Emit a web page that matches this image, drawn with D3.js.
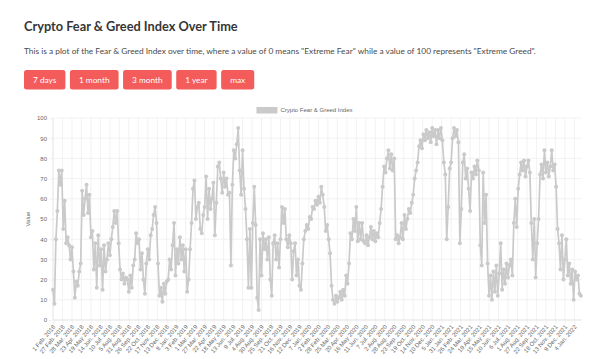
<!DOCTYPE html>
<html><head><meta charset="utf-8">
<script src="https://cdn.jsdelivr.net/npm/d3@7"></script>
<style>
html,body{margin:0;padding:0;background:#fff;}
svg{display:block;}
</style></head><body>
<svg id="c" width="602" height="359"></svg>
<script>
const titleText = "Crypto Fear & Greed Index Over Time";
const subtitleText = 'This is a plot of the Fear & Greed Index over time, where a value of 0 means "Extreme Fear" while a value of 100 represents "Extreme Greed".';
const buttonLabels = ["7 days", "1 month", "3 month", "1 year", "max"];
const seriesName = "Crypto Fear & Greed Index";
const yAxisTitle = "Value";
const yTicks = [0, 10, 20, 30, 40, 50, 60, 70, 80, 90, 100];
const tickLabels = [
  "1 Feb. 2018","27 Feb. 2018","28 Mar. 2018","23 Apr. 2018","19 May 2018","14 Jun. 2018","10 Jul. 2018","5 Aug. 2018","31 Aug. 2018","26 Sep. 2018","22 Oct. 2018","17 Nov. 2018","13 Dec. 2018",
  "8 Jan. 2019","3 Feb. 2019","1 Mar. 2019","27 Mar. 2019","22 Apr. 2019","18 May 2019","13 Jun. 2019","9 Jul. 2019","4 Aug. 2019","30 Aug. 2019","25 Sep. 2019","21 Oct. 2019","16 Nov. 2019","12 Dec. 2019",
  "7 Jan. 2020","2 Feb. 2020","28 Feb. 2020","25 Mar. 2020","20 Apr. 2020","16 May 2020","11 Jun. 2020","7 Jul. 2020","2 Aug. 2020","28 Aug. 2020","23 Sep. 2020","19 Oct. 2020","14 Nov. 2020","10 Dec. 2020",
  "5 Jan. 2021","31 Jan. 2021","26 Feb. 2021","24 Mar. 2021","19 Apr. 2021","15 May 2021","10 Jun. 2021","6 Jul. 2021","1 Aug. 2021","27 Aug. 2021","22 Sep. 2021","18 Oct. 2021","13 Nov. 2021","9 Dec. 2021",
  "4 Jan. 2022"
];
const daysPerTick = 26;     // one labelled tick every 26 daily entries
const daysPerSample = 4;    // one value every 4 days
const totalDays = 1452;
// Index values, sampled every 4 days from 1 Feb 2018
const values = [
  15, 8, 40, 54, 74, 67, 74, 45, 59, 38, 41, 37, 30, 36, 24, 11, 19, 17, 24, 28,
  64, 52, 60, 67, 53, 62, 41, 44, 25, 38, 16, 42, 27, 35, 15, 37, 24, 30, 38, 32, 40, 46, 54, 48, 54, 38,
  25, 20, 23, 18, 21, 20, 14, 22, 16, 27, 30, 43, 38, 40, 25, 33, 20, 13, 28, 35, 30, 42, 45, 52, 56, 48, 28, 12, 16, 9,
  18, 13, 19, 20, 30, 25, 37, 48, 22, 35, 28, 41, 30, 37, 24, 35, 14, 20, 35, 48, 65, 69, 50,
  56, 58, 45, 43, 52, 56, 71, 50, 65, 55, 60, 68, 42, 58, 76, 78, 70, 63, 73, 66, 70, 62, 63, 27, 67, 84, 80, 87,
  95, 74, 62, 84, 65, 55, 40, 16, 45, 16, 48, 66, 47, 11, 5, 40, 22, 43, 35, 40, 30, 41, 20, 12, 38, 42, 30, 38, 26, 40, 56, 48, 55, 40, 36, 42,
  38, 20, 34, 38, 22, 30, 17, 15, 28, 40, 44, 47, 45, 51, 50, 56, 55, 59, 57, 61, 58, 66, 62, 56, 44, 47, 40, 33, 17, 10,
  8, 12, 9, 11, 14, 10, 15, 12, 22, 18, 28, 43, 40, 50, 44, 56, 39, 48, 40, 48, 39, 38, 42, 37, 41, 46, 40, 44, 39, 43, 41, 48, 55,
  66, 76, 73, 80, 84, 75, 82, 74, 80, 40, 42, 38, 41, 48, 40, 52, 45, 50, 55, 53, 58, 62, 70, 74, 78, 86, 89, 85, 92, 89,
  94, 90, 93, 88, 95, 91, 94, 87, 94, 90, 95, 89, 78, 72, 40,
  56, 75, 78, 90, 95, 91, 94, 88, 38, 55, 78, 82, 70, 75, 65, 54, 73, 70, 76, 72, 79, 74, 37, 27, 73, 48, 62, 28, 12, 22,
  10, 24, 14, 27, 12, 23, 38, 15, 25, 18, 28, 21, 27, 30, 22, 48, 60, 46, 65, 72, 78, 74, 79, 71, 76, 79, 73, 48, 30, 50,
  21, 38, 50, 72, 77, 70, 84, 73, 78, 71, 76, 84, 74, 77, 66, 45, 38, 25, 42, 20, 30, 40, 22, 28, 18, 25, 10, 24, 20, 22, 13, 12
];

const svg = d3.select("#c");
const pageFont = "Lato, 'Open Sans', sans-serif";
const chartFont = "'Liberation Sans', Arial, Helvetica, sans-serif";

function fitText(sel, targetWidth) {
  const base = parseFloat(sel.attr("font-size"));
  const w = sel.node().getComputedTextLength();
  sel.attr("font-size", base * targetWidth / w);
}

// Title
const title = svg.append("text").attr("x", 24).attr("y", 31)
  .attr("font-family", pageFont).attr("font-weight", 700).attr("font-size", 14)
  .attr("fill", "#363636").text(titleText);
fitText(title, 214);

// Subtitle
const sub = svg.append("text").attr("x", 24).attr("y", 54)
  .attr("font-family", pageFont).attr("font-size", 8)
  .attr("fill", "#4a4a4a").text(subtitleText);
fitText(sub, 513);

// Buttons
let bx = 24;
buttonLabels.forEach(lbl => {
  const g = svg.append("g");
  const r = g.append("rect").attr("y", 70).attr("height", 19.5).attr("rx", 2.5)
    .attr("fill", "#f45b5b");
  const t = g.append("text").attr("y", 82.8).attr("font-family", pageFont)
    .attr("font-size", 8.3).attr("fill", "#fff").attr("text-anchor", "middle").text(lbl);
  const tw = t.node().getComputedTextLength();
  const w = tw + 18;
  r.attr("x", bx).attr("width", w);
  t.attr("x", bx + w / 2);
  bx += w + 4.5;
});

// Chart
const pLeft = 53, pRight = 582, pTop = 118, pBottom = 320;
const x = d3.scaleLinear().domain([0, totalDays - 1]).range([pLeft, pRight]);
const y = d3.scaleLinear().domain([0, 100]).range([pBottom, pTop]);
const gridColor = "#e9e9e9";
const axisColor = "#d2d2d2";

// horizontal grid
svg.append("g").selectAll("line").data(yTicks).join("line")
  .attr("x1", pLeft).attr("x2", pRight)
  .attr("y1", d => y(d)).attr("y2", d => y(d))
  .attr("stroke", d => d === 0 ? axisColor : gridColor).attr("stroke-width", 0.6);

const tickIdx = tickLabels.map((_, k) => k * daysPerTick);
// vertical grid
svg.append("g").selectAll("line").data(tickIdx).join("line")
  .attr("x1", d => x(d)).attr("x2", d => x(d))
  .attr("y1", pTop).attr("y2", pBottom)
  .attr("stroke", (d, i) => i === 0 ? axisColor : gridColor).attr("stroke-width", 0.6);

// y axis
const yAxis = svg.append("g").attr("transform", `translate(${pLeft},0)`)
  .call(d3.axisLeft(y).tickValues(yTicks).tickSize(4).tickPadding(2));
yAxis.select(".domain").remove();
yAxis.selectAll(".tick line").attr("stroke", gridColor).attr("stroke-width", 0.6);
yAxis.selectAll(".tick text").attr("font-family", chartFont).attr("font-size", 6).attr("fill", "#666");

// x axis
const xAxis = svg.append("g").attr("transform", `translate(0,${pBottom})`)
  .call(d3.axisBottom(x).tickValues(tickIdx).tickSize(4)
    .tickFormat((d, i) => tickLabels[i]));
xAxis.select(".domain").remove();
xAxis.selectAll(".tick line").attr("stroke", gridColor).attr("stroke-width", 0.6);
xAxis.selectAll(".tick text")
  .attr("font-family", chartFont).attr("font-size", 6).attr("fill", "#666")
  .attr("text-anchor", "end").attr("dy", null).attr("y", null)
  .attr("transform", "translate(1,6) rotate(-50)")
  .attr("dominant-baseline", "middle");

// y title
svg.append("text").attr("transform", `translate(30,${(pTop + pBottom) / 2}) rotate(-90)`)
  .attr("text-anchor", "middle").attr("font-family", chartFont).attr("font-size", 6)
  .attr("fill", "#666").text(yAxisTitle);

// series
const lineColor = "#cacaca";
const line = d3.line().x((d, i) => x(i * daysPerSample)).y(d => y(d));
svg.append("path").datum(values).attr("d", line)
  .attr("fill", "none").attr("stroke", lineColor).attr("stroke-width", 1.7)
  .attr("stroke-linejoin", "round");
svg.append("g").selectAll("circle").data(values).join("circle")
  .attr("cx", (d, i) => x(i * daysPerSample)).attr("cy", d => y(d))
  .attr("r", 2).attr("fill", lineColor);

// legend
const lg = svg.append("g");
const lt = lg.append("text").attr("y", 110.2).attr("font-family", chartFont)
  .attr("font-size", 6).attr("fill", "#666").attr("dominant-baseline", "middle").text(seriesName);
const ltw = lt.node().getComputedTextLength();
const boxW = 21, gap = 3;
const lx = 304.5 - (boxW + gap + ltw) / 2;
lg.append("rect").attr("x", lx).attr("y", 107).attr("width", boxW).attr("height", 6.5)
  .attr("fill", lineColor);
lt.attr("x", lx + boxW + gap);
</script>
</body></html>
